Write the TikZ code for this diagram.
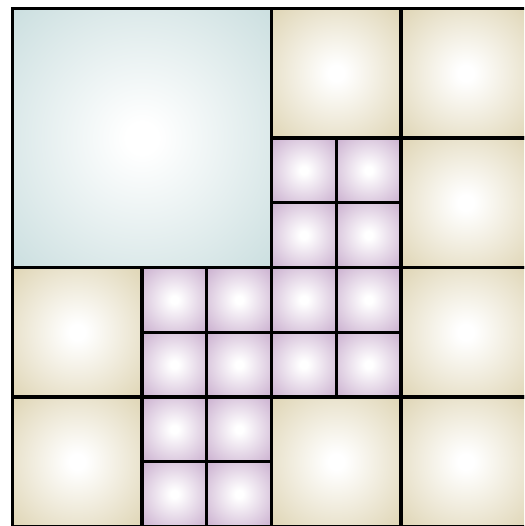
\documentclass[tikz,border=0pt]{standalone}
\definecolor{blueedge}{RGB}{186,212,213}
\definecolor{tanedge}{RGB}{212,199,156}
\definecolor{purpleedge}{RGB}{188,154,194}
\pgfdeclareradialshading{softblue}{\pgfpoint{0bp}{0bp}}{color(0bp)=(white); color(3bp)=(white); color(46bp)=(blueedge); color(50bp)=(blueedge)}
\pgfdeclareradialshading{softtan}{\pgfpoint{0bp}{0bp}}{color(0bp)=(white); color(3bp)=(white); color(46bp)=(tanedge); color(50bp)=(tanedge)}
\pgfdeclareradialshading{softpurple}{\pgfpoint{0bp}{0bp}}{color(0bp)=(white); color(3bp)=(white); color(44bp)=(purpleedge); color(50bp)=(purpleedge)}
\begin{document}
\begin{tikzpicture}[x=1pt,y=-1pt,
  cellline/.style={draw=black,line width=3.2pt},
  bluecell/.style={cellline,shading=softblue},
  tancell/.style={cellline,shading=softtan},
  purplecell/.style={cellline,shading=softpurple}]
\useasboundingbox (0,0) rectangle (524,526);
\clip (0,0) rectangle (524,526);
\def\cs{129.5}
\def\xo{12.5}
\def\yo{8.5}
% big blue square
\shade[bluecell] (\xo,\yo) rectangle ++(2*\cs,2*\cs);
% tan cells (col,row)
\foreach \c/\r in {2/0,3/0,3/1,0/2,3/2,0/3,2/3,3/3}{
  \shade[tancell] ({\xo+\c*\cs},{\yo+\r*\cs}) rectangle ++(\cs,\cs);
}
% purple quarter cells
\foreach \c/\r in {2/1,1/2,2/2,1/3}{
  \foreach \i in {0,1}{
    \foreach \j in {0,1}{
      \shade[purplecell] ({\xo+\c*\cs+\i*\cs/2},{\yo+\r*\cs+\j*\cs/2}) rectangle ++(\cs/2,\cs/2);
    }
  }
}
\end{tikzpicture}
\end{document}
